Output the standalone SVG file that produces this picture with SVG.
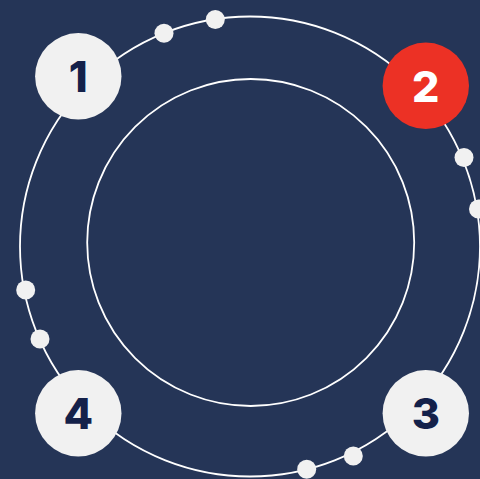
<svg xmlns="http://www.w3.org/2000/svg" width="480" height="479" viewBox="0 0 480 479">
<style>
.ring{fill:none;stroke:#ffffff;stroke-width:1.8}
.dot{fill:#f1f1f1}
.node{fill:#f1f1f1}
.red{fill:#ec3125}
.num{font-family:Inter,"Liberation Sans",Arial,sans-serif;font-weight:800;font-size:43px;text-anchor:middle;fill:#14214a}
.numw{fill:#ffffff}
</style>
<rect width="480" height="479" fill="#253557"/>
<g id="connectors">
<circle class="ring" cx="250" cy="246.5" r="230"/>
<circle class="ring" cx="250.7" cy="242.5" r="163.5"/>
<circle class="dot" cx="164" cy="33.3" r="9.5"/>
<circle class="dot" cx="215.3" cy="19.5" r="9.5"/>
<circle class="dot" cx="464" cy="157.5" r="9.5"/>
<circle class="dot" cx="478.5" cy="209" r="9.5"/>
<circle class="dot" cx="25.7" cy="290" r="9.5"/>
<circle class="dot" cx="40" cy="339" r="9.5"/>
<circle class="dot" cx="353.3" cy="456" r="9.5"/>
<circle class="dot" cx="306.7" cy="469.3" r="9.5"/>
</g>
<g id="node1">
<circle class="node" cx="78.3" cy="76.3" r="43.2"/>
<text class="num" x="78.3" y="91.5">1</text>
</g>
<g id="node2">
<circle class="red" cx="425.8" cy="85.8" r="43.2"/>
<text class="num numw" x="425.8" y="101.5">2</text>
</g>
<g id="node3">
<circle class="node" cx="425.8" cy="413.3" r="43.2"/>
<text class="num" x="425.8" y="428.5">3</text>
</g>
<g id="node4">
<circle class="node" cx="78.3" cy="413.3" r="43.2"/>
<text class="num" x="78.3" y="428.5">4</text>
</g>
</svg>
